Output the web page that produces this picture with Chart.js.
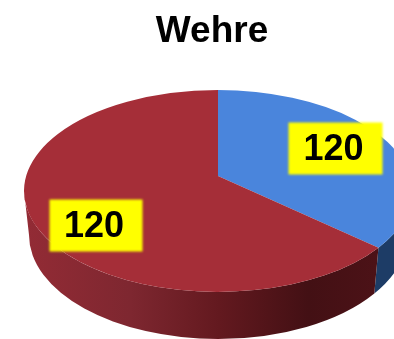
<!DOCTYPE html>
<html>
<head>
<meta charset="utf-8">
<style>
  html, body { margin: 0; padding: 0; background: #fff; }
  #wrap { width: 394px; height: 339px; overflow: hidden; }
</style>
<script src="https://cdn.jsdelivr.net/npm/chart.js@4/dist/chart.umd.min.js"></script>
</head>
<body>
<div id="wrap"><canvas id="pie3d" width="394" height="339"></canvas></div>
<script>
const chartTitle = 'Wehre';
const sliceNames = ['Blau', 'Rot'];
const sliceShares = [34.5, 65.5];
const sliceTexts = ['120', '120'];

const topColors = ['#4a85dc', '#a52e38'];
const sideStops = [
  [[0, '#1d3c66'], [1, '#1d3c66']],
  [[0, '#932b35'], [0.3, '#7e2730'], [0.55, '#63191f'], [0.8, '#431014'], [1, '#4c1217']]
];

// the photo is a tilted pie: squashed, tip above the middle, thick rim
const squash = 0.52;
const tipLift = 15;
const rimDepth = 44;
const rimShrink = 5;
const rimRy = 104;
const pieShiftX = 6;
const labelBoxes = [
  {cx: 335.5, cy: 148.5, w: 94, h: 52},
  {cx: 96, cy: 225.5, w: 93, h: 52}
];

const pie3d = {
  id: 'pie3d',
  beforeDatasetDraw(chart, args) {
    const ctx = chart.ctx;
    const arcs = chart.getDatasetMeta(args.index).data;
    const r = arcs[0].outerRadius;
    const cx = arcs[0].x + pieShiftX;
    const cy = arcs[0].y;
    const ry = r * squash;

    // rim first, only the front half of the ellipse shows
    arcs.forEach((arc, i) => {
      const a = Math.max(arc.startAngle, 0);
      const b = Math.min(arc.endAngle, Math.PI);
      if (b <= a) return;
      const grad = ctx.createLinearGradient(cx - r, 0, cx + r * 0.83, 0);
      sideStops[i].forEach(s => grad.addColorStop(s[0], s[1]));
      ctx.beginPath();
      ctx.ellipse(cx, cy, r, ry, 0, a, b);
      ctx.ellipse(cx, cy + rimDepth, r - rimShrink, rimRy, 0, b, a, true);
      ctx.closePath();
      ctx.fillStyle = grad;
      ctx.fill();
    });

    arcs.forEach((arc, i) => {
      ctx.beginPath();
      ctx.moveTo(cx, cy - tipLift);
      ctx.ellipse(cx, cy, r, ry, 0, arc.startAngle, arc.endAngle);
      ctx.closePath();
      ctx.fillStyle = topColors[i];
      ctx.fill();
    });
    return false;
  },
  afterDatasetsDraw(chart) {
    const ctx = chart.ctx;
    sliceTexts.forEach((txt, i) => {
      const box = labelBoxes[i];
      ctx.save();
      ctx.filter = 'blur(1px)';
      ctx.fillStyle = '#ffff00';
      ctx.fillRect(box.cx - box.w / 2, box.cy - box.h / 2, box.w, box.h);
      ctx.restore();
      ctx.save();
      ctx.translate(box.cx - 2, box.cy + 1);
      ctx.scale(1, 1.05);
      ctx.fillStyle = '#000';
      ctx.font = 'bold 36px "Liberation Sans", Arial, sans-serif';
      ctx.textAlign = 'center';
      ctx.textBaseline = 'middle';
      ctx.fillText(txt, 0, 0);
      ctx.restore();
    });
  }
};

new Chart(document.getElementById('pie3d'), {
  type: 'pie',
  data: {
    labels: sliceNames,
    datasets: [{
      data: sliceShares,
      backgroundColor: topColors,
      borderWidth: 0,
      radius: 194
    }]
  },
  options: {
    responsive: false,
    animation: false,
    layout: {padding: {left: 30, bottom: 19.4}},
    plugins: {
      legend: {display: false},
      tooltip: {enabled: false},
      title: {
        display: true,
        text: chartTitle,
        color: '#000',
        font: {family: '"Liberation Sans", Arial, sans-serif', size: 37, weight: 'bold'},
        padding: {top: 10, bottom: 8}
      }
    }
  },
  plugins: [pie3d]
});
</script>
</body>
</html>
